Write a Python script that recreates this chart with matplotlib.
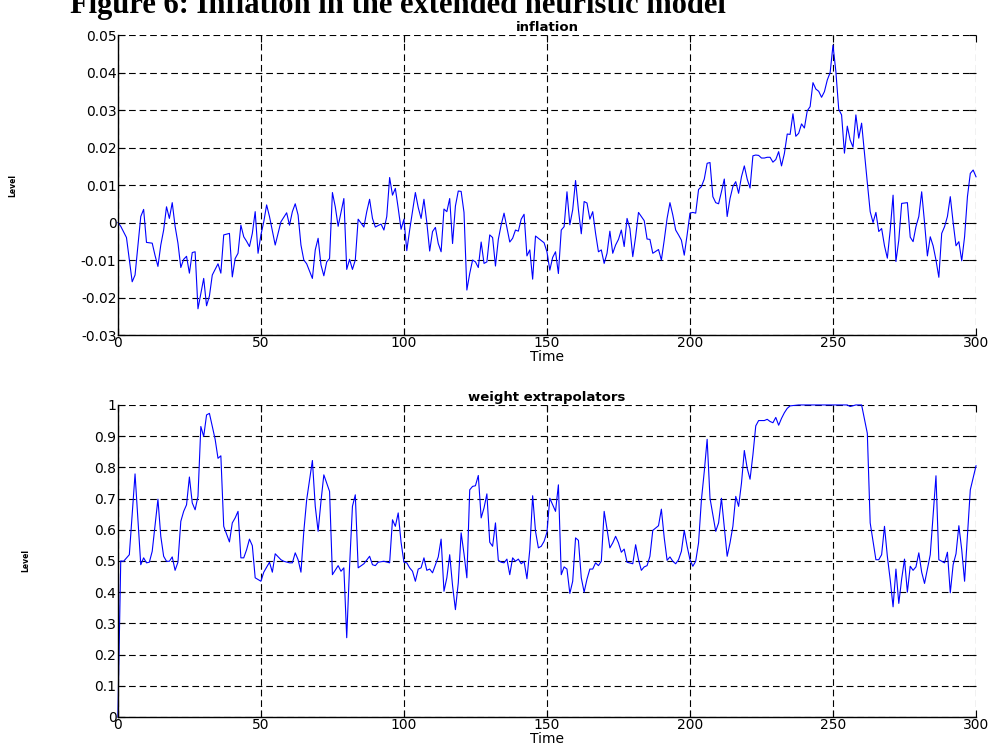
import matplotlib
matplotlib.use("Agg")
import matplotlib.pyplot as plt

# inflation series: (time, level)
infl_t = [0, 1, 3, 5, 6, 8, 9, 10, 12, 13, 14, 15, 16, 17, 18, 19, 20, 21, 22, 23,
          24, 25, 26, 27, 28, 30, 31, 32, 33, 34, 35, 36, 37, 39, 40, 41, 42, 43, 44, 45,
          46, 47, 48, 49, 50, 51, 52, 53, 55, 56, 57, 59, 60, 61, 62, 63, 64, 65, 66, 68,
          69, 70, 71, 72, 73, 74, 75, 76, 77, 79, 80, 81, 82, 83, 84, 86, 87, 88, 89, 90,
          92, 93, 94, 95, 96, 97, 98, 99, 100, 101, 102, 104, 105, 106, 107, 108, 109, 110, 111, 112,
          113, 114, 115, 116, 117, 118, 119, 120, 121, 122, 123, 124, 125, 126, 127, 128, 129, 130, 131, 132,
          133, 134, 135, 137, 138, 139, 140, 141, 142, 143, 144, 145, 146, 147, 149, 150, 151, 152, 153, 154,
          155, 156, 157, 158, 159, 160, 161, 162, 163, 164, 165, 166, 167, 168, 169, 170, 171, 172, 173, 174,
          175, 176, 177, 178, 179, 180, 181, 182, 184, 185, 186, 187, 189, 190, 191, 192, 193, 194, 195, 196,
          197, 198, 199, 200, 201, 202, 203, 204, 205, 206, 207, 208, 209, 210, 211, 212, 213, 214, 215, 216,
          217, 218, 219, 220, 221, 222, 223, 224, 225, 226, 227, 228, 229, 230, 231, 232, 233, 234, 235, 236,
          237, 238, 239, 240, 241, 242, 243, 244, 245, 246, 247, 248, 249, 250, 251, 252, 253, 254, 255, 256,
          257, 258, 259, 260, 261, 262, 263, 264, 265, 266, 267, 268, 269, 270, 271, 272, 273, 274, 276, 277,
          278, 279, 280, 281, 282, 283, 284, 285, 286, 287, 288, 289, 290, 291, 292, 293, 294, 295, 296, 297,
          298, 299, 300]
infl_v = [0.0, -0.001, -0.004, -0.0158, -0.014, 0.0016, 0.0035, -0.0053, -0.0055, -0.0088,
          -0.0117, -0.006, -0.002, 0.0042, 0.0011, 0.0053, -0.001, -0.0055, -0.012, -0.0098,
          -0.009, -0.0135, -0.008, -0.0078, -0.023, -0.0149, -0.0222, -0.0196, -0.014, -0.0125,
          -0.011, -0.0135, -0.0033, -0.0029, -0.0145, -0.0096, -0.0082, -0.0007, -0.0038, -0.005,
          -0.0064, -0.0029, 0.0029, -0.0082, -0.0033, 0.0002, 0.0047, 0.0016, -0.006, -0.0029,
          0.0002, 0.0026, -0.0007, 0.0029, 0.005, 0.002, -0.006, -0.01, -0.011, -0.0149,
          -0.0073, -0.0042, -0.0113, -0.0142, -0.0105, -0.0096, 0.008, 0.0042, -0.001, 0.0064,
          -0.0125, -0.0098, -0.0125, -0.01, 0.0009, -0.0012, 0.0029, 0.0062, 0.0011, -0.0012,
          -0.0004, -0.002, 0.0016, 0.012, 0.0073, 0.0091, 0.0038, -0.0018, 0.0009, -0.0075,
          -0.002, 0.008, 0.004, 0.0011, 0.0062, 0.0, -0.0076, -0.0024, -0.0013, -0.0056,
          -0.0078, 0.0036, 0.0029, 0.0064, -0.0056, 0.0044, 0.0084, 0.0083, 0.0027, -0.018,
          -0.0136, -0.01, -0.0105, -0.012, -0.0052, -0.0109, -0.0105, -0.0033, -0.004, -0.0116,
          -0.0045, -0.0006, 0.0025, -0.0052, -0.0042, -0.002, -0.0023, 0.0009, 0.0022, -0.0089,
          -0.0073, -0.0151, -0.0036, -0.0042, -0.0054, -0.0078, -0.0127, -0.0093, -0.0078, -0.0136,
          -0.002, -0.0011, 0.0082, -0.0006, 0.0034, 0.0112, 0.0034, -0.003, 0.0056, 0.0052,
          0.0009, 0.0029, -0.0029, -0.0078, -0.0073, -0.0109, -0.0082, -0.0023, -0.0082, -0.006,
          -0.0045, -0.002, -0.0064, 0.0011, -0.0016, -0.0091, -0.0038, 0.0027, 0.0005, -0.0044,
          -0.0045, -0.0082, -0.0072, -0.01, -0.0047, 0.0011, 0.0053, 0.002, -0.002, -0.0033,
          -0.0047, -0.0087, -0.0033, 0.0025, 0.0027, 0.0025, 0.0088, 0.0096, 0.0116, 0.0158,
          0.016, 0.0069, 0.0053, 0.005, 0.0082, 0.0116, 0.0016, 0.0064, 0.0096, 0.0109,
          0.0078, 0.0122, 0.0151, 0.0116, 0.0092, 0.0178, 0.018, 0.0179, 0.0172, 0.0172,
          0.0174, 0.0174, 0.0161, 0.0168, 0.0189, 0.0151, 0.0184, 0.0236, 0.0235, 0.029,
          0.023, 0.0238, 0.0263, 0.0252, 0.0298, 0.0309, 0.0373, 0.0356, 0.035, 0.0334,
          0.0349, 0.038, 0.04, 0.0473, 0.0403, 0.0302, 0.0287, 0.0185, 0.0257, 0.022,
          0.0201, 0.0287, 0.0225, 0.0265, 0.0185, 0.0106, 0.0029, 0.0, 0.0027, -0.0024,
          -0.0016, -0.0062, -0.0095, -0.002, 0.0073, -0.0104, -0.0047, 0.0051, 0.0053, -0.0039,
          -0.0051, -0.0011, 0.0016, 0.0082, 0.0, -0.0089, -0.0038, -0.0062, -0.01, -0.0146,
          -0.0029, -0.0011, 0.0016, 0.0069, 0.0, -0.0062, -0.0051, -0.0102, -0.0038, 0.0069,
          0.0131, 0.014, 0.0122]

# weight of extrapolators: (time, level)
wext_t = [0, 1, 2, 4, 6, 8, 9, 10, 11, 12, 14, 15, 16, 17, 18, 19, 20, 21, 22, 23,
          24, 25, 26, 27, 28, 29, 30, 31, 32, 33, 34, 35, 36, 37, 39, 40, 41, 42, 43, 44,
          45, 46, 47, 48, 50, 51, 53, 54, 55, 57, 58, 60, 61, 62, 63, 64, 65, 66, 68, 69,
          70, 71, 72, 73, 74, 75, 77, 78, 79, 80, 81, 82, 83, 84, 86, 88, 89, 90, 91, 93,
          95, 96, 97, 98, 99, 100, 101, 102, 103, 104, 105, 106, 107, 108, 109, 110, 111, 112, 113, 114,
          115, 116, 117, 118, 119, 120, 121, 122, 123, 124, 125, 126, 127, 128, 129, 130, 131, 132, 133, 134,
          135, 136, 137, 138, 139, 140, 141, 142, 143, 144, 145, 146, 147, 148, 149, 150, 151, 152, 153, 154,
          155, 156, 157, 158, 159, 160, 161, 162, 163, 164, 165, 166, 167, 168, 169, 170, 171, 172, 173, 174,
          175, 176, 177, 178, 180, 181, 182, 183, 184, 185, 186, 187, 189, 190, 191, 192, 193, 194, 195, 196,
          197, 198, 199, 200, 201, 202, 203, 204, 205, 206, 207, 208, 209, 210, 211, 213, 214, 215, 216, 217,
          218, 219, 220, 221, 222, 223, 224, 225, 226, 227, 228, 229, 230, 231, 232, 233, 234, 235, 236, 238,
          255, 256, 258, 260, 262, 263, 264, 265, 266, 267, 268, 269, 270, 271, 272, 273, 274, 275, 276, 277,
          278, 279, 280, 281, 282, 284, 286, 287, 289, 290, 291, 292, 293, 294, 295, 296, 298, 300]
wext_v = [0.0, 0.5, 0.499, 0.52, 0.779, 0.488, 0.51, 0.494, 0.496, 0.531,
          0.698, 0.579, 0.515, 0.499, 0.499, 0.513, 0.47, 0.496, 0.627, 0.659,
          0.68, 0.769, 0.686, 0.664, 0.707, 0.931, 0.899, 0.968, 0.973, 0.931,
          0.89, 0.829, 0.837, 0.611, 0.561, 0.622, 0.638, 0.659, 0.51, 0.51,
          0.536, 0.57, 0.549, 0.446, 0.435, 0.464, 0.496, 0.464, 0.523, 0.504,
          0.499, 0.494, 0.494, 0.526, 0.504, 0.464, 0.595, 0.696, 0.822, 0.675,
          0.595, 0.691, 0.776, 0.749, 0.723, 0.456, 0.485, 0.467, 0.478, 0.254,
          0.483, 0.675, 0.712, 0.478, 0.491, 0.515, 0.488, 0.485, 0.496, 0.499,
          0.494, 0.632, 0.611, 0.654, 0.56, 0.496, 0.494, 0.478, 0.467, 0.435,
          0.474, 0.478, 0.51, 0.47, 0.474, 0.462, 0.488, 0.513, 0.57, 0.403,
          0.446, 0.52, 0.421, 0.344, 0.43, 0.59, 0.523, 0.446, 0.728, 0.739,
          0.741, 0.774, 0.638, 0.67, 0.715, 0.56, 0.547, 0.622, 0.502, 0.496,
          0.494, 0.506, 0.456, 0.51, 0.499, 0.506, 0.491, 0.499, 0.443, 0.536,
          0.709, 0.595, 0.542, 0.547, 0.563, 0.592, 0.701, 0.68, 0.659, 0.744,
          0.456, 0.481, 0.474, 0.396, 0.435, 0.574, 0.566, 0.446, 0.4, 0.442,
          0.474, 0.474, 0.494, 0.485, 0.499, 0.659, 0.602, 0.542, 0.558, 0.579,
          0.558, 0.528, 0.538, 0.496, 0.491, 0.552, 0.504, 0.47, 0.481, 0.485,
          0.515, 0.598, 0.613, 0.666, 0.574, 0.502, 0.513, 0.499, 0.491, 0.504,
          0.531, 0.598, 0.547, 0.504, 0.483, 0.499, 0.558, 0.696, 0.787, 0.89,
          0.701, 0.648, 0.595, 0.622, 0.701, 0.515, 0.558, 0.611, 0.707, 0.675,
          0.749, 0.854, 0.797, 0.762, 0.84, 0.933, 0.95, 0.95, 0.95, 0.954,
          0.947, 0.943, 0.96, 0.935, 0.957, 0.975, 0.989, 0.997, 0.998, 1.0,
          1.0, 0.995, 1.0, 1.0, 0.909, 0.622, 0.563, 0.504, 0.504, 0.52,
          0.611, 0.515, 0.44, 0.353, 0.474, 0.364, 0.442, 0.506, 0.4, 0.483,
          0.47, 0.481, 0.526, 0.464, 0.428, 0.52, 0.773, 0.504, 0.494, 0.528,
          0.398, 0.488, 0.523, 0.613, 0.536, 0.435, 0.728, 0.805]

infl_ticks = [-0.03, -0.02, -0.01, 0, 0.01, 0.02, 0.03, 0.04, 0.05]
infl_labels = ["-0.03", "-0.02", "-0.01", "0", "0.01", "0.02", "0.03", "0.04", "0.05"]
wext_ticks = [0, 0.1, 0.2, 0.3, 0.4, 0.5, 0.6, 0.7, 0.8, 0.9, 1]
wext_labels = ["0", "0.1", "0.2", "0.3", "0.4", "0.5", "0.6", "0.7", "0.8", "0.9", "1"]
time_ticks = [0, 50, 100, 150, 200, 250, 300]

plt.rcParams['font.family'] = 'DejaVu Sans'

fig = plt.figure(figsize=(9.99, 7.47), dpi=100)
# figure caption, partly cut by the top edge as in the scan
fig.text(0.07, 1 - 13 / 747, "Figure 6: Inflation in the extended heuristic model",
         family='Liberation Serif', weight='bold', fontsize=22, va='baseline')

ax1 = fig.add_axes([0.118, 0.5515, 0.859, 0.4016])
ax2 = fig.add_axes([0.118, 0.0402, 0.859, 0.4177])


def style(ax, yticks, ylabels, title):
    ax.set_xlim(0, 300)
    ax.set_xticks(time_ticks)
    ax.set_yticks(yticks)
    ax.set_yticklabels(ylabels)
    ax.set_ylim(yticks[0], yticks[-1])
    ax.grid(True, color='black', linestyle=(0, (6, 3.5)), linewidth=0.8)
    ax.spines['top'].set_visible(False)
    ax.spines['right'].set_visible(False)
    ax.spines['left'].set_linewidth(1.0)
    ax.spines['bottom'].set_linewidth(1.0)
    ax.tick_params(direction='in', length=5, top=True, right=True, labelsize=10, pad=1)
    ax.set_xlabel("Time", fontsize=10, labelpad=0)
    ax.set_ylabel("Level", fontsize=5.5, weight='bold', labelpad=46)
    ax.set_title(title, fontsize=9.5, weight='bold', pad=3)


ax1.plot(infl_t, infl_v, color='#0000ff', linewidth=0.8, clip_on=False)
style(ax1, infl_ticks, infl_labels, "inflation")
ax2.plot(wext_t, wext_v, color='#0000ff', linewidth=0.8, clip_on=False)
style(ax2, wext_ticks, wext_labels, "weight extrapolators")

fig.savefig("out.png", dpi=100)
